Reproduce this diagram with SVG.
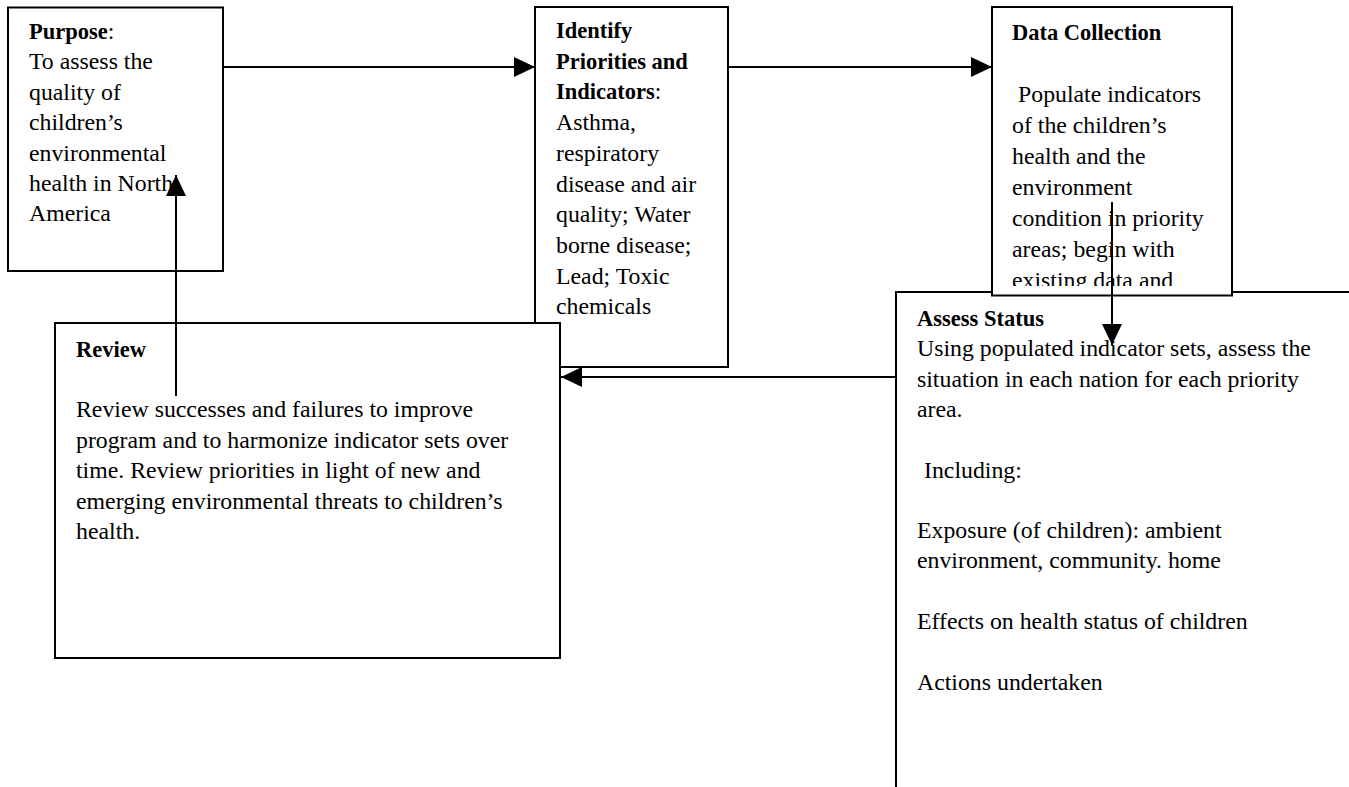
<svg xmlns="http://www.w3.org/2000/svg" width="1349" height="787" viewBox="0 0 1349 787">
<style>
.box{fill:#fff;stroke:#000;stroke-width:2}
text{font-family:"Liberation Serif","Times New Roman",serif;font-size:23.8px;fill:#000}
.b{font-weight:bold;font-size:22.5px}
.c{stroke:#000;stroke-width:2;fill:none}
</style>
<defs>
<marker id="ah" markerWidth="22" markerHeight="20" refX="21" refY="10" orient="auto" markerUnits="userSpaceOnUse">
<path d="M0,0 L21,10 L0,20 Z" fill="#000"/>
</marker>
<clipPath id="dcClip"><rect x="992" y="7" width="240" height="279"/></clipPath>
</defs>

<g id="assess-status">
<rect class="box" x="896" y="292" width="470" height="520"/>
<text class="b" x="917" y="326">Assess Status</text>
<text x="917" y="356.3">Using populated indicator sets, assess the</text>
<text x="917" y="386.6">situation in each nation for each priority</text>
<text x="917" y="416.9">area.</text>
<text x="924" y="477.5">Including:</text>
<text x="917" y="538.1">Exposure (of children): ambient</text>
<text x="917" y="568.4">environment, community. home</text>
<text x="917" y="629">Effects on health status of children</text>
<text x="917" y="689.6">Actions undertaken</text>
</g>

<g id="data-collection">
<rect class="box" x="992" y="7" width="240" height="288.5"/>
<g clip-path="url(#dcClip)">
<text class="b" x="1012" y="40">Data Collection</text>
<text x="1018" y="102">Populate indicators</text>
<text x="1012" y="133">of the children’s</text>
<text x="1012" y="164">health and the</text>
<text x="1012" y="195">environment</text>
<text x="1012" y="226">condition in priority</text>
<text x="1012" y="257">areas; begin with</text>
<text x="1012" y="288">existing data and</text>
</g>
</g>

<g id="identify">
<rect class="box" x="535" y="7" width="193" height="360"/>
<text class="b" x="556" y="38">Identify</text>
<text class="b" x="556" y="68.7">Priorities and</text>
<text x="556" y="99.4"><tspan class="b">Indicators</tspan>:</text>
<text x="556" y="130.1">Asthma,</text>
<text x="556" y="160.8">respiratory</text>
<text x="556" y="191.5">disease and air</text>
<text x="556" y="222.2">quality; Water</text>
<text x="556" y="252.9">borne disease;</text>
<text x="556" y="283.6">Lead; Toxic</text>
<text x="556" y="314.3">chemicals</text>
</g>

<g id="purpose">
<rect class="box" x="8" y="7.5" width="215" height="263.5"/>
<text x="29" y="39"><tspan class="b">Purpose</tspan>:</text>
<text x="29" y="69.4">To assess the</text>
<text x="29" y="99.8">quality of</text>
<text x="29" y="130.2">children’s</text>
<text x="29" y="160.6">environmental</text>
<text x="29" y="191">health in North</text>
<text x="29" y="221.4">America</text>
</g>

<g id="review">
<rect class="box" x="55" y="323" width="505" height="335"/>
<text class="b" x="76" y="357">Review</text>
<text x="76" y="417">Review successes and failures to improve</text>
<text x="76" y="447.5">program and to harmonize indicator sets over</text>
<text x="76" y="478">time. Review priorities in light of new and</text>
<text x="76" y="508.5">emerging environmental threats to children’s</text>
<text x="76" y="539">health.</text>
</g>

<g id="connectors">
<line class="c" x1="223" y1="67" x2="535" y2="67" marker-end="url(#ah)"/>
<line class="c" x1="728" y1="67" x2="992" y2="67" marker-end="url(#ah)"/>
<line class="c" x1="1112" y1="202" x2="1112" y2="345" marker-end="url(#ah)"/>
<line class="c" x1="896" y1="377" x2="561" y2="377" marker-end="url(#ah)"/>
<line class="c" x1="176" y1="396" x2="176" y2="175" marker-end="url(#ah)"/>
</g>
</svg>
